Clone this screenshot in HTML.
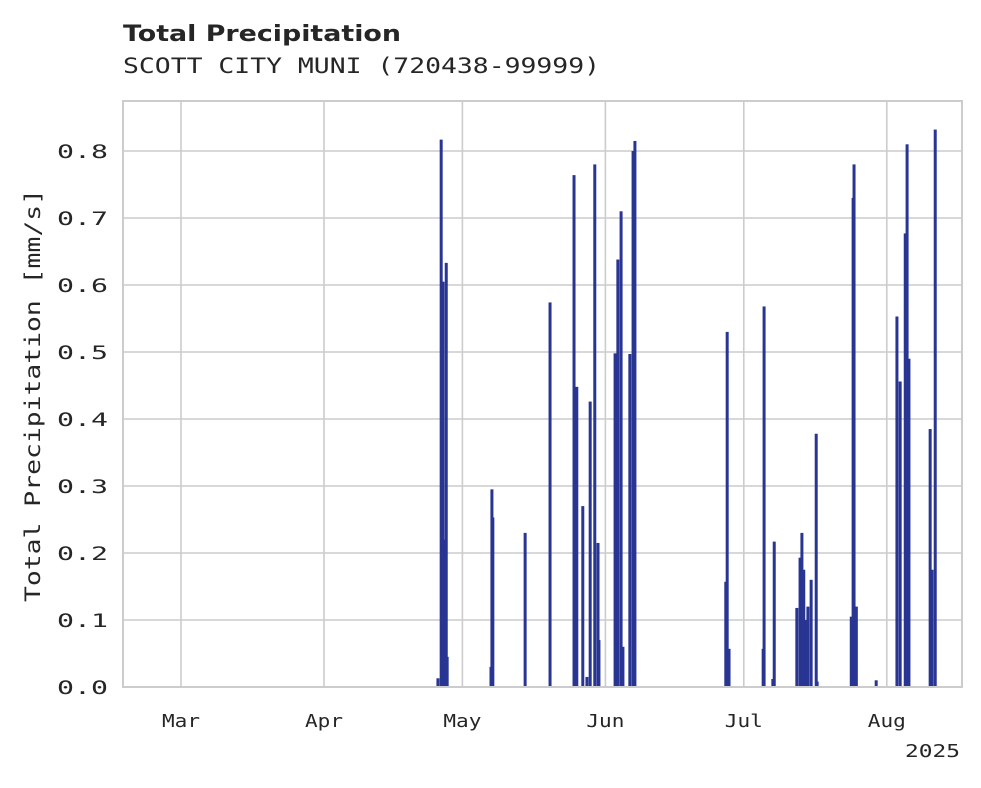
<!DOCTYPE html>
<html><head><meta charset="utf-8"><style>
body{margin:0;background:#fff}
svg text{font-family:"DejaVu Sans Mono","Liberation Mono",monospace;fill:#262626}
</style></head><body>
<svg id="chart" width="981" height="783">
<text x="123" y="41" textLength="278" lengthAdjust="spacingAndGlyphs" style="font-family:'DejaVu Sans','Liberation Sans',sans-serif;font-weight:bold;font-size:22px">Total Precipitation</text>
<text x="123" y="73" textLength="477" lengthAdjust="spacingAndGlyphs" style="font-size:21px">SCOTT CITY MUNI (720438-99999)</text>
<g id="grid"></g><g id="bars"></g><g id="axes"></g>
<rect x="123" y="101" width="839" height="586" fill="none" stroke="#cccccc" stroke-width="2"/>
<text transform="translate(40,396) rotate(-90)" x="-206" y="0" textLength="413" lengthAdjust="spacingAndGlyphs" style="font-size:21px">Total Precipitation [mm/s]</text>
<text x="905" y="757" textLength="55" lengthAdjust="spacingAndGlyphs" style="font-size:18px">2025</text>
</svg>
<script>
const days=[55.7,56.4,56.8,57.2,57.5,57.7,67.2,67.4,67.6,74.6,80.0,85.2,85.8,87.1,88.0,88.7,89.7,90.4,90.6,94.1,94.7,95.4,95.8,97.3,98.0,98.4,118.1,118.4,118.8,126.2,126.4,128.3,128.6,133.5,134.2,134.6,135.0,135.5,135.9,136.6,137.7,137.9,145.3,145.7,145.9,146.4,150.7,155.2,155.9,157.0,157.4,157.8,162.4,162.8,163.5];
const values=[0.013,0.817,0.605,0.22,0.633,0.045,0.03,0.295,0.253,0.23,0.574,0.764,0.448,0.27,0.015,0.426,0.78,0.215,0.07,0.498,0.638,0.71,0.06,0.497,0.8,0.815,0.157,0.53,0.057,0.057,0.568,0.012,0.217,0.118,0.193,0.23,0.175,0.1,0.12,0.16,0.378,0.008,0.105,0.73,0.78,0.12,0.01,0.553,0.456,0.677,0.81,0.49,0.385,0.175,0.832];
const yTicks=[0,0.1,0.2,0.3,0.4,0.5,0.6,0.7,0.8];
const yTickLabels=["0.0","0.1","0.2","0.3","0.4","0.5","0.6","0.7","0.8"];
const monthDays=[0,31,61,92,122,153];
const monthLabels=["Mar","Apr","May","Jun","Jul","Aug"];
const NS="http://www.w3.org/2000/svg";
const x=d=>181+d*4.613;
const y=v=>687-v*670;
function mk(t,a,p){const e=document.createElementNS(NS,t);for(const k in a)e.setAttribute(k,a[k]);p.appendChild(e);return e;}
const grid=document.getElementById('grid'),axes=document.getElementById('axes'),bars=document.getElementById('bars');
yTicks.forEach((v,i)=>{
 const l=mk('line',{x1:123,x2:962,y1:y(v),y2:y(v),stroke:'#cccccc','stroke-width':1.6},grid);
 
 
 const t=mk('text',{x:57,y:y(v)+7,'font-size':19,textLength:51,lengthAdjust:'spacingAndGlyphs'},axes);
 t.textContent=yTickLabels[i];
 
 
});
monthDays.forEach((d,i)=>{
 const l=mk('line',{x1:x(d),x2:x(d),y1:101,y2:687,stroke:'#cccccc','stroke-width':1.6},grid);
 
 
 const t=mk('text',{x:x(d)-19,y:727,'font-size':18,textLength:38,lengthAdjust:'spacingAndGlyphs'},axes);
 t.textContent=monthLabels[i];
 
 
});
days.forEach((d,i)=>{
 const r=mk('rect',{x:x(d)-1.5,y:y(values[i]),width:3,height:687-y(values[i]),fill:'#283593'},bars);
 
 
});
</script>
</body></html>
